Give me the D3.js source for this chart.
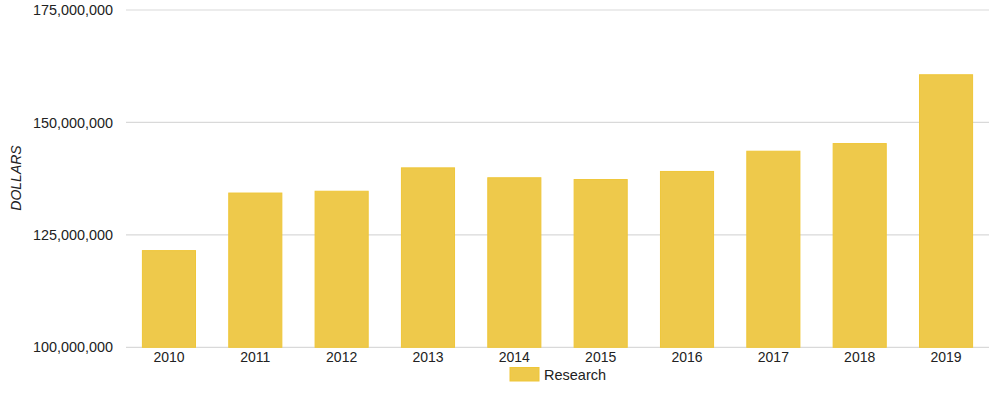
<!DOCTYPE html>
<html><head><meta charset="utf-8">
<script src="https://cdn.jsdelivr.net/npm/d3@7"></script>
<style>
body{margin:0;background:#fff;}
text{font-family:"Liberation Sans",Arial,sans-serif;fill:#222;}
</style></head>
<body><svg id="c" width="1000" height="398"></svg>
<script>
const categories = ["2010","2011","2012","2013","2014","2015","2016","2017","2018","2019"];
const research = [121500000,134300000,134700000,139900000,137700000,137300000,139100000,143600000,145300000,160600000];
const yTicks = [100000000,125000000,150000000,175000000];
const seriesName = "Research";
const axisTitle = "DOLLARS";

const svg = d3.select("#c");
const mLeft = 126, mRight = 989, mTop = 10, mBottom = 347.3;
const x = d3.scaleBand().domain(categories).range([mLeft, mRight]).paddingInner(0.385).paddingOuter(0.19);
const y = d3.scaleLinear().domain([100000000,175000000]).range([mBottom, mTop]);
const fmt = d3.format(",");

// gridlines
svg.append("g").selectAll("line").data(yTicks).join("line")
  .attr("x1", mLeft).attr("x2", mRight)
  .attr("y1", d => y(d)).attr("y2", d => y(d))
  .attr("stroke", "#d9d9d9").attr("stroke-width", 1.2);

// y axis labels
const ya = svg.append("g").attr("transform", `translate(${mLeft-13},0)`)
  .call(d3.axisLeft(y).tickValues(yTicks).tickFormat(fmt).tickSize(0).tickPadding(0));
ya.select(".domain").remove();
ya.selectAll("text").attr("font-size", 14.4).attr("fill", "#333")
  .style("font-family", '"Liberation Sans",Arial,sans-serif');

// bars
svg.append("g").selectAll("rect").data(research).join("rect")
  .attr("x", (d,i) => x(categories[i]))
  .attr("width", x.bandwidth())
  .attr("y", d => y(d))
  .attr("height", d => mBottom - y(d))
  .attr("fill", "#EEC94B")
  .attr("stroke", "#EFC638").attr("stroke-width", 1);

// x axis labels
const xa = svg.append("g").attr("transform", `translate(0,${mBottom})`)
  .call(d3.axisBottom(x).tickSize(0).tickPadding(5));
xa.select(".domain").remove();
xa.selectAll("text").attr("font-size", 14).attr("fill", "#111")
  .style("font-family", '"Liberation Sans",Arial,sans-serif');

// y title
svg.append("text").attr("transform", "translate(21,178) rotate(-90)")
  .attr("text-anchor", "middle").attr("font-size", 14).attr("font-style", "italic")
  .attr("fill", "#111").text(axisTitle);

// legend
svg.append("rect").attr("x", 510).attr("y", 367.5).attr("width", 29).attr("height", 13.5)
  .attr("fill", "#EEC94B").attr("stroke", "#EFC638");
svg.append("text").attr("x", 544).attr("y", 379.5).attr("font-size", 14.5).attr("fill", "#111").text(seriesName);
</script></body></html>
